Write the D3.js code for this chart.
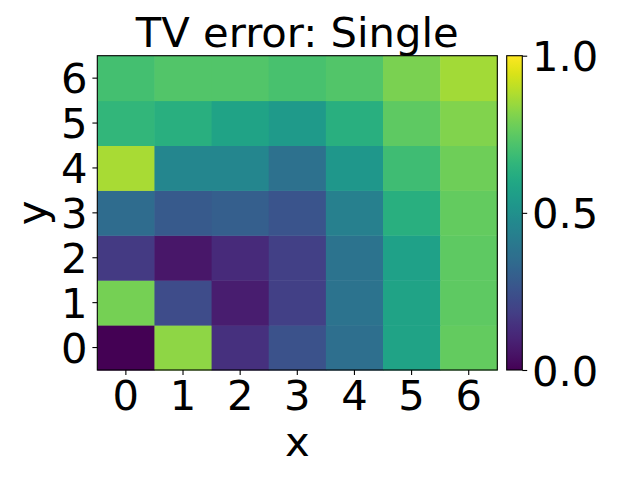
<!DOCTYPE html>
<html><head><meta charset="utf-8">
<script src="https://cdn.jsdelivr.net/npm/d3@7"></script>
<style>body{margin:0;background:#fff}svg{display:block}text{font-family:"DejaVu Sans";fill:#000}</style>
</head><body><svg id="c" width="640" height="480"></svg>
<script>
const xCats = [0,1,2,3,4,5,6];
const yCats = [0,1,2,3,4,5,6];
// rows indexed by y (0 = bottom), columns by x
const row0 = [0.00,0.83,0.14,0.25,0.36,0.58,0.76];
const row1 = [0.79,0.23,0.08,0.19,0.38,0.58,0.75];
const row2 = [0.17,0.06,0.12,0.19,0.38,0.57,0.75];
const row3 = [0.35,0.28,0.30,0.26,0.43,0.63,0.76];
const row4 = [0.87,0.46,0.46,0.37,0.53,0.69,0.78];
const row5 = [0.66,0.63,0.58,0.54,0.63,0.75,0.81];
const row6 = [0.70,0.73,0.73,0.71,0.73,0.80,0.86];
const cbTicks = [0.0,0.5,1.0];
const title = "TV error: Single";

const rows = [row0,row1,row2,row3,row4,row5,row6];
const cells = [];
rows.forEach((r,yi)=>r.forEach((v,xi)=>cells.push({x:xCats[xi],y:yCats[yi],v})));

const svg = d3.select("#c");
const L=97.3,R=497.3,T=55.7,B=370;
const fs=41.7;
const x = d3.scaleBand().domain(xCats).range([L,R]);
const y = d3.scaleBand().domain(yCats).range([B,T]);
const color = d3.scaleSequential(d3.interpolateViridis).domain([0,1]);

svg.append("g").selectAll("rect").data(cells).join("rect")
  .attr("x",d=>x(d.x)).attr("y",d=>y(d.y))
  .attr("width",x.bandwidth()+0.5).attr("height",y.bandwidth()+0.5)
  .attr("fill",d=>color(d.v));
svg.append("rect").attr("x",L).attr("y",T).attr("width",R-L).attr("height",B-T)
  .attr("fill","none").attr("stroke","#000").attr("stroke-width",1.1);

const xa = svg.append("g").attr("transform",`translate(0,${B})`)
  .call(d3.axisBottom(x).tickSize(4.9).tickPadding(4.9));
xa.select(".domain").remove();
xa.selectAll("line").attr("stroke","#000").attr("stroke-width",1.1);
xa.selectAll("text").style("font-size",fs+"px").attr("dy","0.72em");

const ya = svg.append("g").attr("transform",`translate(${L},0)`)
  .call(d3.axisLeft(y).tickSize(4.9).tickPadding(4.9));
ya.select(".domain").remove();
ya.selectAll("line").attr("stroke","#000").attr("stroke-width",1.1);
ya.selectAll("text").style("font-size",fs+"px").attr("dy","0.36em");

svg.append("text").attr("x",(L+R)/2).attr("y",47).attr("text-anchor","middle")
  .style("font-size",fs+"px").text(title);
svg.append("text").attr("x",(L+R)/2).attr("y",456).attr("text-anchor","middle")
  .style("font-size",fs+"px").text("x");
svg.append("text").attr("transform",`translate(46,${(T+B)/2}) rotate(-90)`).attr("text-anchor","middle")
  .style("font-size",fs+"px").text("y");

// colorbar
const cL=506.7,cR=522.3;
const grad = svg.append("defs").append("linearGradient").attr("id","vg")
  .attr("x1","0").attr("y1","1").attr("x2","0").attr("y2","0");
d3.range(0,1.0001,0.02).forEach(t=>grad.append("stop").attr("offset",t).attr("stop-color",color(t)));
svg.append("rect").attr("x",cL).attr("y",T).attr("width",cR-cL).attr("height",B-T).attr("fill","url(#vg)")
  .attr("stroke","#000").attr("stroke-width",1.1);
const cy = d3.scaleLinear().domain([0,1]).range([B,T]);
const ca = svg.append("g").attr("transform",`translate(${cR},0)`)
  .call(d3.axisRight(cy).tickValues(cbTicks).tickFormat(d3.format(".1f")).tickSize(4.9).tickPadding(4.9));
ca.select(".domain").remove();
ca.selectAll("line").attr("stroke","#000").attr("stroke-width",1.1);
ca.selectAll("text").style("font-size",fs+"px").attr("dy","0.36em");
</script></body></html>
